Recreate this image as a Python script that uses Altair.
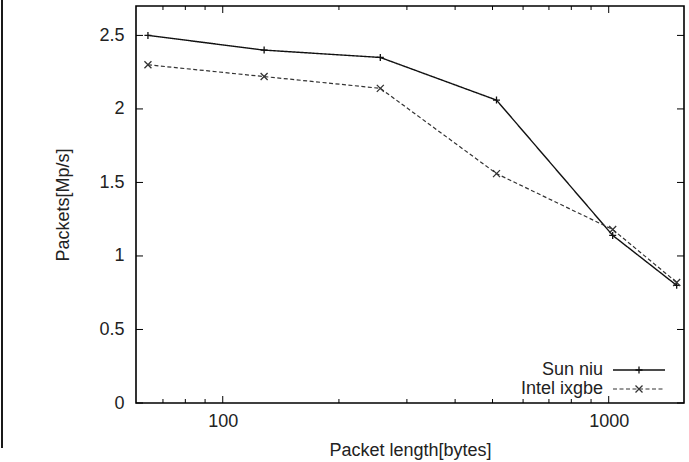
import altair as alt
import pandas as pd

# ---- data ----
packet_len = [64, 128, 256, 512, 1024, 1500]
sun_niu = [2.50, 2.40, 2.35, 2.06, 1.14, 0.80]
intel_ixgbe = [2.30, 2.22, 2.14, 1.56, 1.18, 0.82]
series_names = ["Sun niu", "Intel ixgbe"]

y_ticks = [0, 0.5, 1, 1.5, 2, 2.5]
x_major = [100, 1000]
x_minor = [70, 80, 90, 200, 300, 400, 500, 600, 700, 800, 900]

W, H = 548, 397
FONT = "Liberation Sans"
FS = 18
TXT = "#222222"

PLUS = "M-1,0L1,0M0,-1L0,1"
CROSS = "M-1,-1L1,1M-1,1L1,-1"

df = pd.DataFrame({
    "len": packet_len * 2,
    "val": sun_niu + intel_ixgbe,
    "series": [series_names[0]] * len(packet_len) + [series_names[1]] * len(packet_len),
})

xscale = alt.Scale(type="log", domain=[59.6, 1567], nice=False)
yscale = alt.Scale(domain=[0, 2.7], nice=False, zero=False)

xaxis = alt.Axis(values=x_major, labelExpr="format(datum.value, '~g')", grid=False,
                 ticks=False, domain=False, labelFont=FONT, labelFontSize=FS,
                 labelColor=TXT, labelPadding=9, title="Packet length[bytes]",
                 titleFont=FONT, titleFontSize=FS, titleFontWeight="normal",
                 titleColor=TXT, titleX=W / 2, titleY=47, titleBaseline="middle")
yaxis = alt.Axis(values=y_ticks, labelExpr="format(datum.value, '~g')", grid=False,
                 ticks=False, domain=False, labelFont=FONT, labelFontSize=FS,
                 labelColor=TXT, labelPadding=12, title="Packets[Mp/s]",
                 titleFont=FONT, titleFontSize=FS, titleFontWeight="normal",
                 titleColor=TXT, titleX=-73, titleY=H / 2, titleBaseline="middle")


def X(field):
    return alt.X(field, scale=xscale, axis=xaxis, title="Packet length[bytes]")


def Y(field):
    return alt.Y(field, scale=yscale, axis=yaxis, title="Packets[Mp/s]")


styles = {
    series_names[0]: dict(dash=[1, 0], shape=PLUS, color="#111111", sw=1.4),
    series_names[1]: dict(dash=[4, 2.5], shape=CROSS, color="#333333", sw=1.2),
}

layers = []
for name in series_names:
    st = styles[name]
    sub = alt.Chart(df).transform_filter(alt.datum.series == name)
    layers.append(sub.mark_line(color=st["color"], strokeWidth=st["sw"],
                                strokeDash=st["dash"]).encode(x=X("len:Q"), y=Y("val:Q")))
    layers.append(sub.mark_point(shape=st["shape"], filled=False, size=49,
                                 color=st["color"], strokeWidth=1.3, opacity=1)
                  .encode(x=X("len:Q"), y=Y("val:Q")))

# inward tick marks (gnuplot style) on all four sides
yt = alt.Chart(pd.DataFrame({"v": y_ticks}))
for x0, x1 in [(0, 7), (W - 7, W)]:
    layers.append(yt.mark_rule(color="black", strokeWidth=1).encode(
        y=Y("v:Q"), x=alt.value(x0), x2=alt.value(x1)))
for vals, ln in [(x_major, 7), (x_minor, 4)]:
    xt = alt.Chart(pd.DataFrame({"v": vals}))
    for y0, y1 in [(H, H - ln), (0, ln)]:
        layers.append(xt.mark_rule(color="black", strokeWidth=1).encode(
            x=X("v:Q"), y=alt.value(y0), y2=alt.value(y1)))

# legend (inside, lower right, label then sample)
leg_y = [364, 383]
for name, ly in zip(series_names, leg_y):
    st = styles[name]
    ldf = alt.Chart(pd.DataFrame({"name": [name]}))
    layers.append(ldf.mark_text(align="right", baseline="middle", font=FONT,
                                fontSize=FS, color=TXT).encode(
        text="name:N", x=alt.value(467), y=alt.value(ly)))
    layers.append(ldf.mark_rule(color=st["color"], strokeWidth=st["sw"],
                                strokeDash=st["dash"]).encode(
        x=alt.value(477), x2=alt.value(529), y=alt.value(ly)))
    layers.append(ldf.mark_point(shape=st["shape"], filled=False, size=49,
                                 color=st["color"], strokeWidth=1.3, opacity=1).encode(
        x=alt.value(503), y=alt.value(ly)))

# page edge line at the far left of the picture
layers.append(alt.Chart(pd.DataFrame({"a": [0]})).mark_rule(color="black", strokeWidth=1.8).encode(
    x=alt.value(-134), y=alt.value(-6), y2=alt.value(442)))

chart = alt.layer(*layers).properties(
    width=W, height=H,
    autosize=alt.AutoSizeParams(type="none"),
    padding={"left": 136, "top": 6, "right": 5, "bottom": 59},
    background="white",
).configure_view(stroke="black", strokeWidth=1.6)

chart.save("out.html", embed_options={"renderer": "svg", "actions": False})
